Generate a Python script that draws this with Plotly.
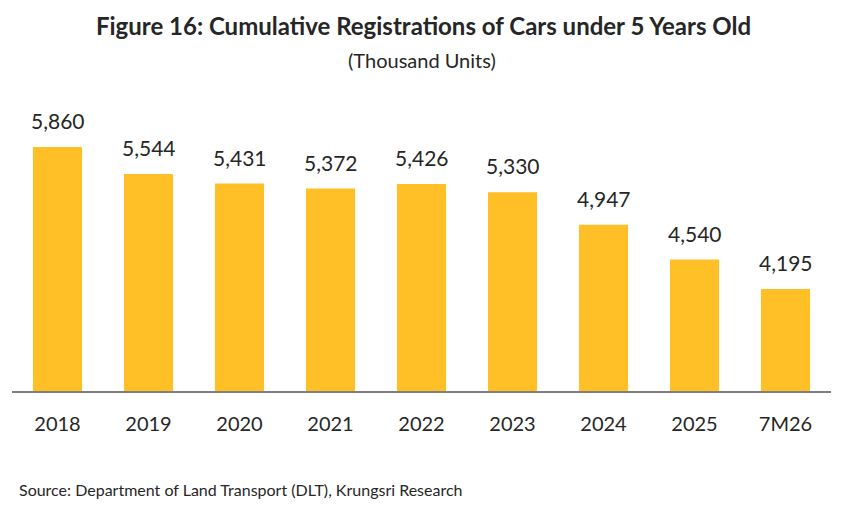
import plotly.graph_objects as go

# Data (thousand units)
years = ["2018", "2019", "2020", "2021", "2022", "2023", "2024", "2025", "7M26"]
registrations = [5860, 5544, 5431, 5372, 5426, 5330, 4947, 4540, 4195]
value_labels = ["{:,}".format(v) for v in registrations]

bar_color = "#FEBF27"
text_color = "#262626"
font_family = "Lato, 'Open Sans', sans-serif"

fig = go.Figure()
fig.add_trace(go.Bar(
    x=years,
    y=registrations,
    marker=dict(color=bar_color, line=dict(width=0)),
    hoverinfo="skip",
))

# value labels above bars (x given as category index)
for i, (v, lab) in enumerate(zip(registrations, value_labels)):
    fig.add_annotation(
        x=i, y=v, text=lab, showarrow=False,
        yanchor="bottom", yshift=12,
        font=dict(size=21, color=text_color, family=font_family),
    )

# note: page body adds an 8px offset, margins are set with that in mind
fig.update_layout(
    width=855, height=527,
    margin=dict(l=4, r=32, t=92, b=144),
    paper_bgcolor="white", plot_bgcolor="white",
    bargap=0.46,
    showlegend=False,
    font=dict(family=font_family, color=text_color),
    title=dict(
        text="<b>Figure 16: Cumulative Registrations of Cars under 5 Years Old</b>",
        x=0.486, xanchor="center", yref="container", y=0.964, yanchor="middle",
        font=dict(size=24, color=text_color, family=font_family),
    ),
    xaxis=dict(
        type="category",
        range=[-0.5, len(years) - 0.5],
        showline=True, linecolor="#7F7F7F", linewidth=1.5,
        ticks="", showgrid=False,
        tickfont=dict(size=20, color=text_color),
        ticklabelstandoff=14,
    ),
    yaxis=dict(
        range=[3000, 6410], visible=False, showgrid=False,
    ),
)

fig.add_annotation(
    xref="paper", yref="paper", x=0.5, y=1, xanchor="center", yanchor="middle",
    yshift=40, text="(Thousand Units)", showarrow=False,
    font=dict(size=20, color=text_color, family=font_family),
)

fig.add_annotation(
    xref="paper", yref="paper", x=0.0, y=-0.340, xanchor="left", yanchor="middle",
    text="Source: Department of Land Transport (DLT), Krungsri Research",
    showarrow=False, xshift=5,
    font=dict(size=16, color=text_color, family=font_family),
)

fig.write_html("out.html")
